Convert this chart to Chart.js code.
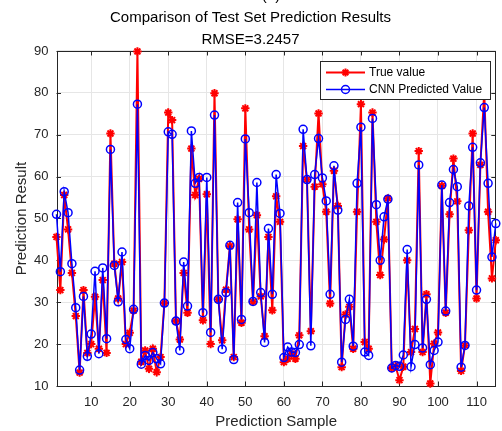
<!DOCTYPE html>
<html lang="en">
<head>
<meta charset="UTF-8">
<title>Comparison of Test Set Prediction Results</title>
<script src="https://cdn.jsdelivr.net/npm/chart.js"></script>
<style>
  html, body { margin: 0; padding: 0; background: #fff; }
</style>
</head>
<body>
<canvas id="predChart" width="502" height="431"></canvas>
<script>
// values
const trueValues = [
  45.6, 32.9, 55.6, 47.4, 37.0, 26.7, 13.2, 32.9, 17.9, 20.0,
  31.3, 18.9, 35.3, 17.9, 70.3, 39.2, 30.9, 39.6, 20.0, 22.7,
  28.0, 89.9, 15.8, 18.5, 14.1, 18.9, 13.3, 16.9, 29.8, 75.3,
  73.5, 25.5, 21.1, 37.0, 27.5, 66.7, 55.6, 59.5, 25.7, 55.8,
  20.0, 79.9, 30.7, 20.9, 33.0, 43.4, 16.9, 49.8, 25.1, 76.3,
  47.4, 30.1, 50.8, 31.4, 21.9, 45.6, 28.1, 55.3, 49.2, 15.7,
  16.5, 17.7, 16.5, 22.1, 67.3, 59.3, 23.1, 57.6, 75.1, 58.2,
  51.6, 29.7, 61.4, 53.0, 14.5, 27.1, 28.9, 18.9, 51.6, 77.3,
  20.5, 18.9, 75.3, 49.2, 36.5, 45.0, 54.8, 14.3, 14.7, 11.4,
  14.6, 40.0, 18.1, 23.6, 66.1, 18.1, 31.9, 10.6, 20.1, 22.8,
  57.8, 27.5, 51.0, 64.3, 54.1, 13.6, 19.7, 47.2, 70.3, 30.9,
  62.8, 80.3, 51.6, 35.7, 44.8
];
const predValues = [
  51.0, 37.3, 56.4, 51.4, 39.2, 28.7, 13.8, 31.4, 17.1, 22.4,
  37.4, 17.7, 38.2, 21.3, 66.5, 38.8, 30.1, 42.0, 21.1, 18.9,
  28.3, 77.3, 15.2, 17.3, 16.1, 18.0, 16.5, 15.3, 29.8, 70.7,
  70.1, 25.5, 18.5, 39.6, 29.1, 70.9, 58.4, 59.8, 27.5, 59.8,
  22.8, 74.7, 30.7, 18.8, 32.3, 43.6, 16.3, 53.8, 25.9, 69.0,
  51.4, 30.2, 58.6, 32.3, 20.4, 47.6, 31.9, 60.5, 51.2, 16.8,
  19.3, 18.1, 18.0, 19.9, 71.3, 59.3, 19.6, 60.5, 69.1, 59.7,
  54.2, 31.9, 62.6, 52.0, 15.7, 25.9, 30.7, 19.5, 58.4, 71.8,
  18.1, 17.3, 73.9, 53.3, 40.0, 50.4, 54.6, 14.3, 14.9, 14.7,
  17.4, 42.6, 14.6, 19.9, 62.8, 19.1, 30.7, 15.1, 18.5, 20.5,
  58.0, 27.9, 53.8, 61.7, 57.6, 14.5, 19.7, 53.0, 67.0, 32.9,
  63.3, 76.5, 58.4, 40.8, 48.8
];
const xTicks = [10, 20, 30, 40, 50, 60, 70, 80, 90, 100, 110];
const yTicks = [10, 20, 30, 40, 50, 60, 70, 80, 90];
const seriesNames = ['True value', 'CNN Predicted Value'];

const samples = trueValues.map((_, i) => i + 1);

const FONT = "'Liberation Sans', Arial, sans-serif";
const AXIS_COLOR = '#262626';
const RED = 'rgb(255,0,0)';
const BLUE = 'rgb(0,0,255)';

// box, inward ticks, legend and the clipped "(a)" caption, matlab style
const matlabFrame = {
  id: 'matlabFrame',
  beforeDatasetsDraw(chart) {
    const { ctx, chartArea: a, scales } = chart;
    ctx.save();
    ctx.strokeStyle = AXIS_COLOR;
    ctx.lineWidth = 1;
    ctx.strokeRect(Math.round(a.left) + 0.5, Math.round(a.top) + 0.5,
      Math.round(a.right - a.left) - 1, Math.round(a.bottom - a.top));
    const len = 4.5;
    ctx.beginPath();
    xTicks.forEach(v => {
      const x = Math.round(scales.x.getPixelForValue(v)) + 0.5;
      ctx.moveTo(x, a.bottom); ctx.lineTo(x, a.bottom - len);
      ctx.moveTo(x, a.top); ctx.lineTo(x, a.top + len);
    });
    yTicks.forEach(v => {
      const y = Math.round(scales.y.getPixelForValue(v)) + 0.5;
      ctx.moveTo(a.left, y); ctx.lineTo(a.left + len, y);
      ctx.moveTo(a.right, y); ctx.lineTo(a.right - len, y);
    });
    ctx.stroke();
    ctx.restore();
  },
  afterDraw(chart) {
    const { ctx } = chart;
    ctx.save();
    // caption cut off by the top of the picture
    ctx.fillStyle = '#000';
    ctx.font = '15px ' + FONT;
    ctx.textAlign = 'center';
    ctx.textBaseline = 'alphabetic';
    ctx.fillText('(a)', 271, 0);

    // legend
    const bx = 320.5, by = 61.5, bw = 170, bh = 38;
    ctx.fillStyle = '#fff';
    ctx.fillRect(bx, by, bw, bh);
    ctx.strokeStyle = AXIS_COLOR;
    ctx.lineWidth = 1;
    ctx.strokeRect(bx, by, bw, bh);
    const rows = [
      { y: 72.5, color: RED, style: 'star', width: 2, pw: 2 },
      { y: 89.5, color: BLUE, style: 'circle', width: 1.5, pw: 1.5 }
    ];
    rows.forEach((r, i) => {
      ctx.strokeStyle = r.color;
      ctx.lineWidth = r.width;
      ctx.beginPath();
      ctx.moveTo(326, r.y); ctx.lineTo(365, r.y);
      ctx.stroke();
      ctx.fillStyle = 'rgba(0,0,0,0)';
      ctx.lineWidth = r.pw;
      Chart.helpers.drawPoint(ctx, { pointStyle: r.style, radius: 4, rotation: 0, borderWidth: r.pw }, 345.5, r.y);
      ctx.fillStyle = '#000';
      ctx.font = '12px ' + FONT;
      ctx.textAlign = 'left';
      ctx.textBaseline = 'middle';
      ctx.fillText(seriesNames[i], 369, r.y + 0.5);
    });
    ctx.restore();
  }
};

const ctx = document.getElementById('predChart').getContext('2d');
const predChart = new Chart(ctx, {
  type: 'line',
  data: {
    datasets: [
      {
        label: seriesNames[0],
        data: samples.map((s, i) => ({ x: s, y: trueValues[i] })),
        borderColor: RED,
        borderWidth: 2,
        pointStyle: 'star',
        pointRadius: 4.2,
        pointBorderWidth: 2,
        pointBorderColor: RED,
        pointBackgroundColor: RED,
        tension: 0,
        clip: false,
        order: 2
      },
      {
        label: seriesNames[1],
        data: samples.map((s, i) => ({ x: s, y: predValues[i] })),
        borderColor: BLUE,
        borderWidth: 1.5,
        pointStyle: 'circle',
        pointRadius: 4,
        pointBorderWidth: 1.5,
        pointBorderColor: BLUE,
        pointBackgroundColor: 'rgba(0,0,0,0)',
        tension: 0,
        clip: false,
        order: 1
      }
    ]
  },
  options: {
    responsive: false,
    animation: false,
    devicePixelRatio: 1,
    layout: { padding: { left: 0, right: 1, top: 0, bottom: 0 } },
    plugins: {
      legend: { display: false },
      tooltip: { enabled: false },
      title: {
        display: true,
        text: ['Comparison of Test Set Prediction Results', 'RMSE=3.2457'],
        color: '#000',
        font: { family: FONT, size: 15, weight: 'normal', lineHeight: 1.4533 },
        padding: { top: 7.4, bottom: 0 }
      }
    },
    scales: {
      x: {
        type: 'linear',
        min: 1,
        max: 115,
        afterBuildTicks: s => { s.ticks = xTicks.map(v => ({ value: v })); },
        afterFit: s => { s.height = 45; },
        ticks: { autoSkip: false, maxRotation: 0, padding: 9, color: AXIS_COLOR, font: { family: FONT, size: 13 } },
        grid: { color: 'rgb(230,230,230)', drawTicks: false },
        border: { display: false },
        title: {
          display: true, text: 'Prediction Sample', color: AXIS_COLOR,
          font: { family: FONT, size: 15 }, padding: { top: 0, bottom: 0 }
        }
      },
      y: {
        min: 10,
        max: 90,
        afterBuildTicks: s => { s.ticks = yTicks.map(v => ({ value: v })); },
        afterFit: s => { s.width = 56.5; },
        ticks: { padding: 8, color: AXIS_COLOR, font: { family: FONT, size: 13 } },
        grid: { color: 'rgb(230,230,230)', drawTicks: false },
        border: { display: false },
        title: {
          display: true, text: 'Prediction Result', color: AXIS_COLOR,
          font: { family: FONT, size: 15 }, padding: { top: 13, bottom: 0 }
        }
      }
    }
  },
  plugins: [matlabFrame]
});
</script>
</body>
</html>
